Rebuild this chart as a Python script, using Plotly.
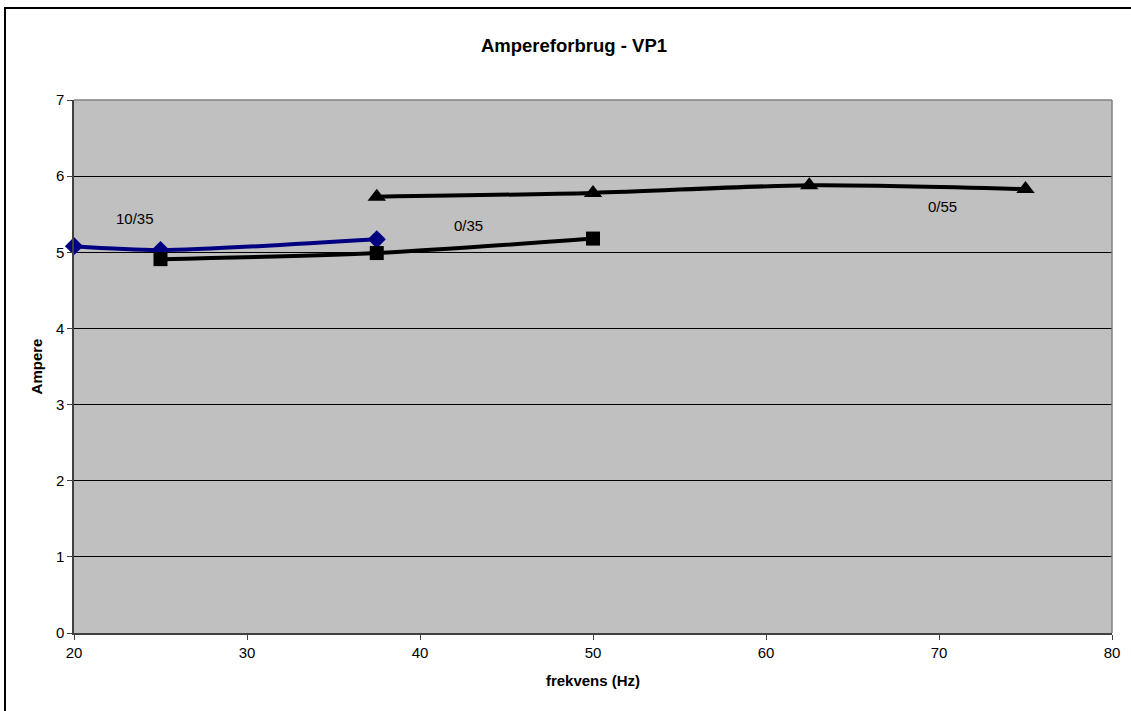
import plotly.graph_objects as go

# Data
x_1035 = [20, 25, 37.5]
y_1035 = [5.08, 5.03, 5.17]
x_035 = [25, 37.5, 50]
y_035 = [4.91, 4.99, 5.18]
x_055 = [37.5, 50, 62.5, 75]
y_055 = [5.73, 5.78, 5.88, 5.83]

labels = ["10/35", "0/35", "0/55"]
label_x = [23.5, 42.8, 70.2]
label_y = [5.45, 5.35, 5.6]

L, R, T, B = 74, 19, 100, 78
W, H = 1131, 711
pw, ph = W - L - R, H - T - B
FONT = "Liberation Sans, Arial"

fig = go.Figure()
fig.add_trace(go.Scatter(x=x_1035, y=y_1035, mode="lines+markers",
                         line=dict(color="#000080", width=4, shape="spline", smoothing=0.8),
                         marker=dict(symbol="diamond", size=14, color="#000080"),
                         name=labels[0], cliponaxis=False))
fig.add_trace(go.Scatter(x=x_035, y=y_035, mode="lines+markers",
                         line=dict(color="#000000", width=4, shape="spline", smoothing=0.8),
                         marker=dict(symbol="square", size=14, color="#000000"),
                         name=labels[1], cliponaxis=False))
fig.add_trace(go.Scatter(x=x_055, y=y_055, mode="lines+markers",
                         line=dict(color="#000000", width=4, shape="spline", smoothing=0.8),
                         marker=dict(symbol="triangle-up", size=16, color="#000000"),
                         name=labels[2], cliponaxis=False))

for t, lx, ly in zip(labels, label_x, label_y):
    fig.add_annotation(x=lx, y=ly, text=t, showarrow=False,
                       font=dict(family=FONT, size=15, color="#000000"))

# outer chart border (extends past right/bottom edges)
fig.add_shape(type="rect", xref="paper", yref="paper",
              x0=(5 - L) / pw, x1=(1140 - L) / pw,
              y0=(H - B - 720) / ph, y1=(H - B - 8) / ph,
              line=dict(color="#000000", width=2), layer="below")
# plot area right/top border
fig.add_shape(type="line", xref="paper", yref="paper", x0=0, x1=1, y0=1, y1=1,
              line=dict(color="#808080", width=1.5))
fig.add_shape(type="line", xref="paper", yref="paper", x0=1, x1=1, y0=0, y1=1,
              line=dict(color="#808080", width=1.5))

fig.update_layout(
    width=W, height=H,
    margin=dict(l=L, r=R, t=T, b=B),
    paper_bgcolor="#FFFFFF",
    plot_bgcolor="#C0C0C0",
    showlegend=False,
    font=dict(family=FONT, size=15, color="#000000"),
    title=dict(text="<b>Ampereforbrug - VP1</b>", x=574 / W, xanchor="center",
               y=1 - 46 / H, yanchor="middle",
               font=dict(size=18.5, family=FONT)),
    xaxis=dict(range=[20, 80], dtick=10, tick0=20, showgrid=False, zeroline=False,
               showline=True, linecolor="#404040", linewidth=1.5,
               ticks="outside", ticklen=5, tickcolor="#404040",
               title=dict(text="<b>frekvens (Hz)</b>", font=dict(size=15), standoff=16),
               tickfont=dict(size=15)),
    yaxis=dict(range=[0, 7], dtick=1, tick0=0, showgrid=True, gridcolor="#000000", gridwidth=1,
               zeroline=False, showline=True, linecolor="#404040", linewidth=1.5,
               ticks="outside", ticklen=5, tickcolor="#404040",
               title=dict(text="<b>Ampere</b>", font=dict(size=15), standoff=10),
               tickfont=dict(size=15)),
)

fig.write_html("out.html")
